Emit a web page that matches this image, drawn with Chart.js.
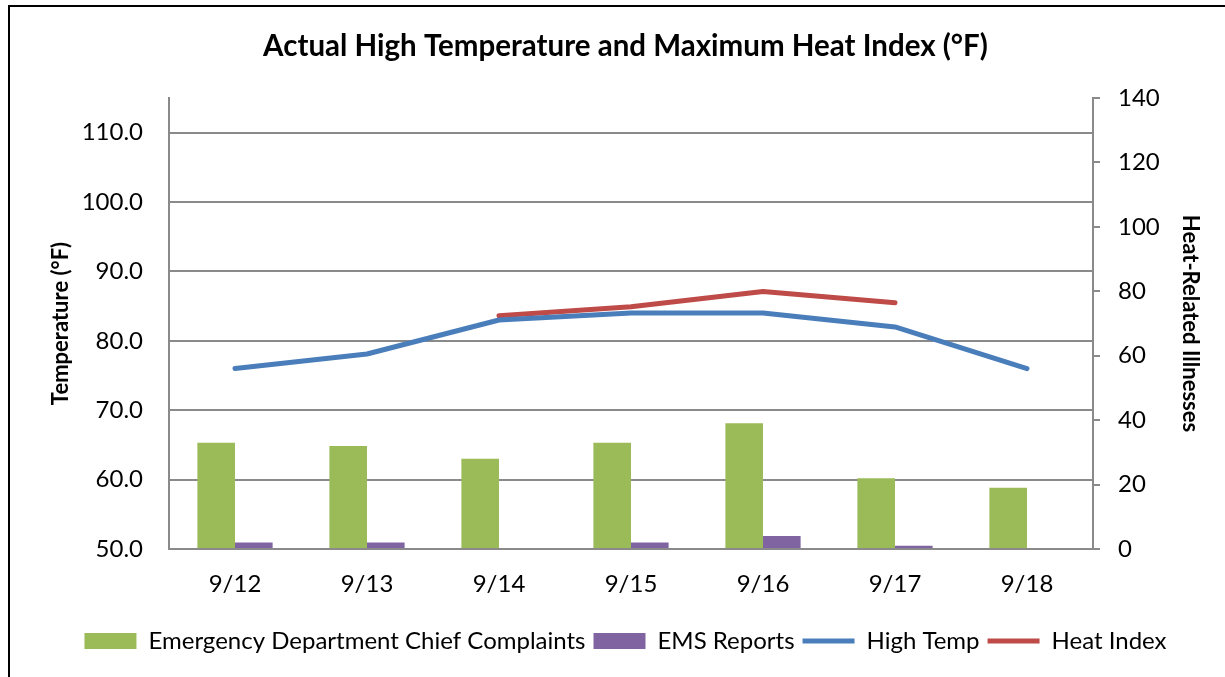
<!DOCTYPE html>
<html>
<head>
<meta charset="utf-8">
<script src="https://cdn.jsdelivr.net/npm/chart.js@4/dist/chart.umd.min.js"></script>
<style>
  html, body { margin:0; padding:0; background:#fff; overflow:hidden; }
  #wrap { position:relative; width:1225px; height:677px; }
  #frame { position:absolute; left:8px; top:5px; width:1300px; height:800px; border:2px solid #000; pointer-events:none; box-sizing:border-box; }
</style>
</head>
<body>
<div id="wrap">
  <canvas id="chart" width="1225" height="677"></canvas>
  <div id="frame"></div>
</div>
<script>
// ── data ────────────────────────────────────────────────────────────────────
const days        = ['9/12', '9/13', '9/14', '9/15', '9/16', '9/17', '9/18'];
const edComplaint = [33, 32, 28, 33, 39, 22, 19];
const emsReports  = [2, 2, 0, 2, 4, 1, 0];
const highTemp    = [76, 78.1, 83, 84, 84, 82, 76];
const heatIndex   = [null, null, 83.6, 84.9, 87.1, 85.5, null];
const tempTicks   = { min: 50, max: 115, step: 10, top: 110 };
const illTicks    = { min: 0, max: 140, step: 20 };

const FONT  = 'Lato, "Open Sans", sans-serif';
const GRID  = '#8a8a8a';

const chart = new Chart(document.getElementById('chart'), {
  data: {
    labels: days,
    datasets: [
      { type:'bar', label:'Emergency Department Chief Complaints', data: edComplaint, yAxisID:'y1',
        backgroundColor:'#9bbb59', borderWidth:0, categoryPercentage:0.57, barPercentage:1 },
      { type:'bar', label:'EMS Reports', data: emsReports, yAxisID:'y1',
        backgroundColor:'#8064a2', borderWidth:0, categoryPercentage:0.57, barPercentage:1 },
      { type:'line', label:'High Temp', data: highTemp, yAxisID:'y',
        borderColor:'#4a7ebb', backgroundColor:'#4a7ebb', borderWidth:5, pointRadius:0,
        borderCapStyle:'round', borderJoinStyle:'round', tension:0 },
      { type:'line', label:'Heat Index', data: heatIndex, yAxisID:'y',
        borderColor:'#be4b48', backgroundColor:'#be4b48', borderWidth:5, pointRadius:0,
        borderCapStyle:'round', borderJoinStyle:'round', tension:0 },
    ],
  },
  options: {
    responsive:false, animation:false, devicePixelRatio:1,
    layout: { padding: { top:15, left:40, right:14, bottom:14 } },
    plugins: {
      tooltip: { enabled:false },
      title: {
        display:true, text:'Actual High Temperature and Maximum Heat Index (°F)',
        color:'#000', font:{ family:FONT, size:29.5, weight:'bold' },
        padding:{ top:14, bottom:33.6 },
      },
      legend: {
        position:'bottom',
        labels: {
          color:'#000', font:{ family:FONT, size:24 },
          usePointStyle:true, pointStyleWidth:52, boxHeight:16, padding:8,
          generateLabels: ch => Chart.defaults.plugins.legend.labels.generateLabels(ch).map(l => {
            l.pointStyle = ch.data.datasets[l.datasetIndex].type === 'line' ? 'line' : 'rect';
            return l;
          }),
        },
      },
    },
    scales: {
      x: {
        grid:{ display:false, drawTicks:false },
        border:{ display:true, color:GRID, width:2 },
        ticks:{ color:'#000', font:{ family:FONT, size:24 }, padding:21 },
        afterFit: s => { s.height = 72; },
      },
      y: {
        position:'left', min:tempTicks.min, max:tempTicks.max,
        afterBuildTicks: s => { s.ticks = s.ticks.filter(t => t.value <= tempTicks.top); },
        ticks:{ stepSize:tempTicks.step, color:'#000', font:{ family:FONT, size:24 }, padding:26,
                callback: v => v.toFixed(1) },
        grid:{ color:GRID, lineWidth:2, drawTicks:false },
        border:{ color:GRID, width:2 },
        title:{ display:true, text:'Temperature (°F)', color:'#000',
                font:{ family:FONT, size:22, weight:'bold' }, padding:{ top:8, bottom:0 } },
        afterFit: s => { s.width = 129; },
      },
      y1: {
        position:'right', min:illTicks.min, max:illTicks.max,
        ticks:{ stepSize:illTicks.step, color:'#000', font:{ family:FONT, size:24 }, padding:18 },
        grid:{ drawOnChartArea:false, color:GRID, lineWidth:2, tickLength:7 },
        border:{ color:GRID, width:2 },
        title:{ display:true, text:'Heat-Related Illnesses', color:'#000',
                font:{ family:FONT, size:22, weight:'bold' }, padding:{ top:8, bottom:0 } },
        afterFit: s => { s.width = 118; },
      },
    },
  },
});
</script>
</body>
</html>
